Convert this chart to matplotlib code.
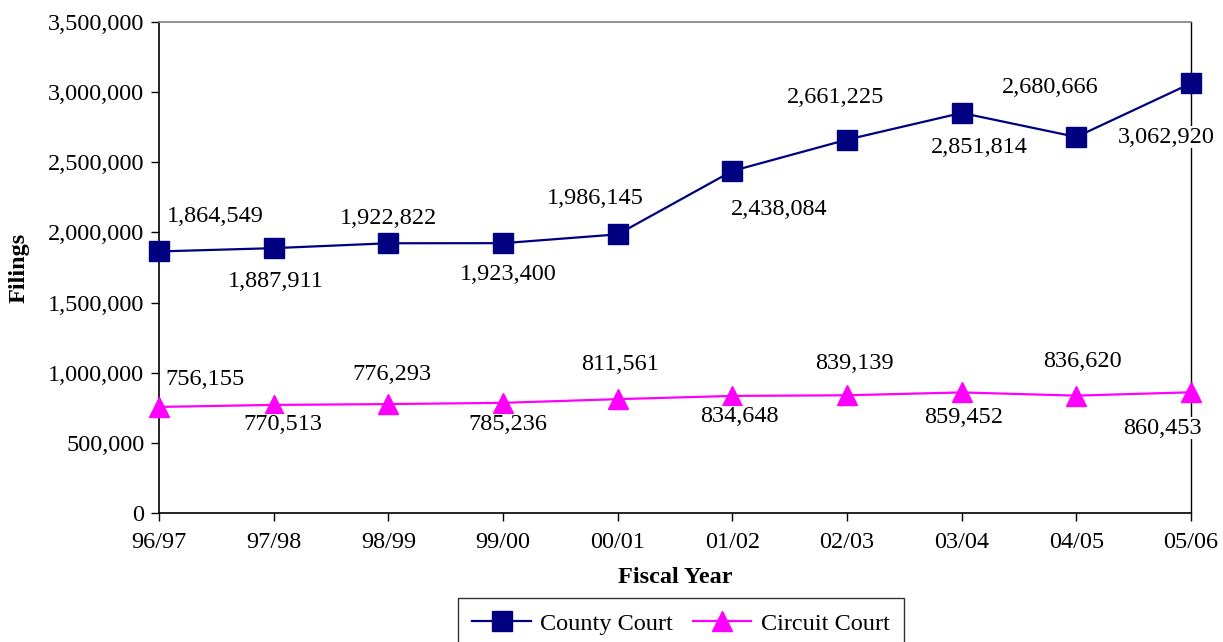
import matplotlib
matplotlib.use("Agg")
import matplotlib.pyplot as plt
from matplotlib.ticker import FuncFormatter, MultipleLocator

plt.rcParams['font.family'] = ['Liberation Serif', 'DejaVu Serif']

# data
years = ["96/97", "97/98", "98/99", "99/00", "00/01",
         "01/02", "02/03", "03/04", "04/05", "05/06"]
county = [1864549, 1887911, 1922822, 1923400, 1986145,
          2438084, 2661225, 2851814, 2680666, 3062920]
circuit = [756155, 770513, 776293, 785236, 811561,
           834648, 839139, 859452, 836620, 860453]

# label offsets in pixels (dx, dy), positive dy = up
county_off = [(56, 35), (2, -33), (0, 25), (5, -31), (-22, 36),
              (47, -39), (-11, 42), (18, -35), (-26, 49), (-25, -54)]
circuit_off = [(46, 27), (9, -20), (4, 30), (5, -22), (2, 35),
               (7, -21), (7, 32), (2, -25), (6, 34), (-29, -36)]

navy = "#000080"
magenta = "#FF00FF"
fs = 17.5

fig = plt.figure(figsize=(12.23, 6.42), dpi=100)
ax = fig.add_axes([159/1223, 1 - 513/642, (1191-159)/1223, (513-22)/642])

x = list(range(len(years)))
ax.plot(x, county, color=navy, lw=1.6, marker="s", ms=14,
        markerfacecolor=navy, markeredgecolor=navy, label="County Court",
        clip_on=False, zorder=3)
ax.plot(x, circuit, color=magenta, lw=1.6, marker="^", ms=15,
        markerfacecolor=magenta, markeredgecolor=magenta, label="Circuit Court",
        clip_on=False, zorder=3)

for xi, v, (dx, dy) in zip(x, county, county_off):
    ax.annotate(f"{v:,}", (xi, v), xytext=(dx, dy), textcoords="offset pixels",
                ha="center", va="center", fontsize=fs,
                bbox=dict(facecolor="white", edgecolor="none", pad=0.3),
                zorder=4)
for xi, v, (dx, dy) in zip(x, circuit, circuit_off):
    ax.annotate(f"{v:,}", (xi, v), xytext=(dx, dy), textcoords="offset pixels",
                ha="center", va="center", fontsize=fs,
                bbox=dict(facecolor="white", edgecolor="none", pad=0.3),
                zorder=4)

ax.set_xlim(0, len(years) - 1)
ax.set_ylim(0, 3500000)
ax.yaxis.set_major_locator(MultipleLocator(500000))
ax.yaxis.set_major_formatter(FuncFormatter(lambda v, p: f"{int(v):,}"))
ax.set_xticks(x)
ax.set_xticklabels(years)
ax.tick_params(axis="both", direction="out", length=6, width=1, labelsize=fs)
ax.tick_params(axis="x", pad=8)
ax.tick_params(axis="y", pad=4.5)

for s in ["left", "bottom", "right"]:
    ax.spines[s].set_color("black")
    ax.spines[s].set_linewidth(1.2)
ax.spines["right"].set_linewidth(1.0)
ax.spines["top"].set_color("#808080")
ax.spines["top"].set_linewidth(1.2)

ax.set_xlabel("Fiscal Year", fontsize=fs, fontweight="bold", labelpad=10)
ax.set_ylabel("Filings", fontsize=fs, fontweight="bold", labelpad=13)

leg = fig.legend(loc="upper center", bbox_to_anchor=(681/1223, 1 - 598/642),
                 ncol=2, fontsize=fs, frameon=True, fancybox=False,
                 handlelength=2.4, columnspacing=0.8, handletextpad=0.4,
                 borderpad=0.6, borderaxespad=0)
leg.get_frame().set_edgecolor("black")
leg.get_frame().set_linewidth(1.0)

fig.savefig("out.png", dpi=100)
